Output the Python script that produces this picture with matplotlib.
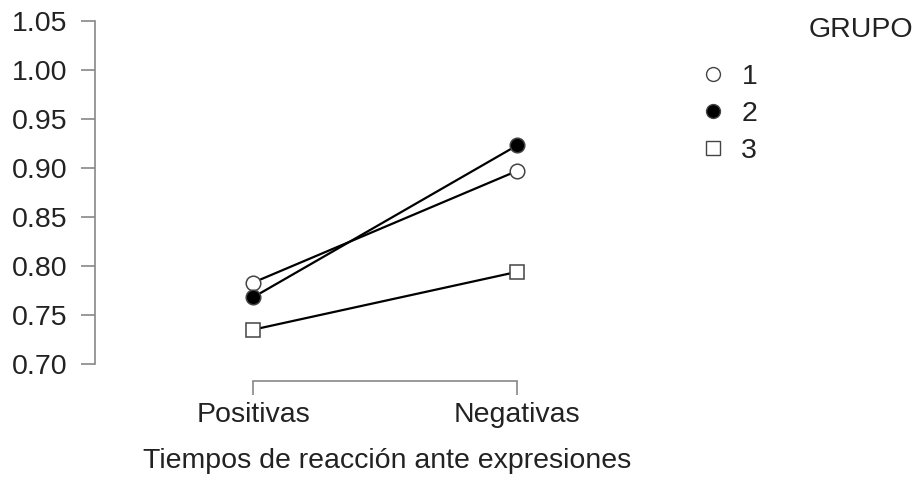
import numpy as np
import matplotlib.pyplot as plt

plt.rcParams['font.family'] = ['Liberation Sans', 'DejaVu Sans']

categories = ["Positivas", "Negativas"]
groups = ["1", "2", "3"]
grupo1 = [0.783, 0.897]
grupo2 = [0.768, 0.923]
grupo3 = [0.735, 0.794]
yticks = [0.70, 0.75, 0.80, 0.85, 0.90, 0.95, 1.00, 1.05]

W, H = 918, 484
fig = plt.figure(figsize=(W / 100, H / 100), dpi=100)
# axes placed in pixel terms: y axis at x=95, data 0.70..1.05 spans y=364..21
ax = fig.add_axes([95 / W, (H - 364) / H, (680 - 95) / W, (364 - 21) / H])

x = np.arange(len(categories))
styles = [
    dict(marker='o', markerfacecolor='white', markersize=10.5),
    dict(marker='o', markerfacecolor='black', markersize=10.5),
    dict(marker='s', markerfacecolor='white', markersize=10),
]
for vals, st in zip([grupo1, grupo2, grupo3], styles):
    ax.plot(x, vals, color='black', lw=1.6, markeredgecolor='#444444',
            markeredgewidth=1.1, zorder=3, clip_on=False, **st)

ax.set_xlim(-(253 - 95) / 264, 1 + (680 - 517) / 264)
ax.set_ylim(0.70, 1.05)
ax.set_yticks(yticks)
ax.set_yticklabels([f"{v:.2f}" for v in yticks])
ax.set_xticks(x)
ax.set_xticklabels(categories)

for s in ['top', 'right']:
    ax.spines[s].set_visible(False)
ax.spines['left'].set_bounds(0.70, 1.05)
ax.spines['bottom'].set_bounds(0, 1)
ax.spines['bottom'].set_position(('outward', 12.2))
for s in ['left', 'bottom']:
    ax.spines[s].set_color('#888888')
    ax.spines[s].set_linewidth(1.2)
ax.tick_params(axis='both', colors='#888888', length=10, width=1.2,
               labelcolor='#222222', labelsize=20.5)
ax.tick_params(axis='y', pad=10)
ax.tick_params(axis='x', pad=5.4)

ax.set_xlabel("Tiempos de reacción ante expresiones", fontsize=20.5,
              color='#222222', labelpad=14)

# legend
handles = []
for g, st in zip(groups, styles):
    st2 = dict(st)
    st2['markersize'] = st['markersize'] - 0.5
    h, = ax.plot([], [], linestyle='none', markeredgecolor='#444444',
                 markeredgewidth=1.0, color='black', **st2)
    handles.append(h)
leg = fig.legend(handles, groups, loc='upper left', bbox_to_anchor=(685 / W, 1 - 50 / H),
                 frameon=False, fontsize=20.5, handletextpad=0.48, labelspacing=0.38,
                 handlelength=1.0, borderpad=0)
for t in leg.get_texts():
    t.set_color('#222222')
fig.text(861 / W, 1 - 30 / H, "GRUPO", fontsize=20.5, color='#222222',
         ha='center', va='center')

fig.savefig("out.png", dpi=100)
